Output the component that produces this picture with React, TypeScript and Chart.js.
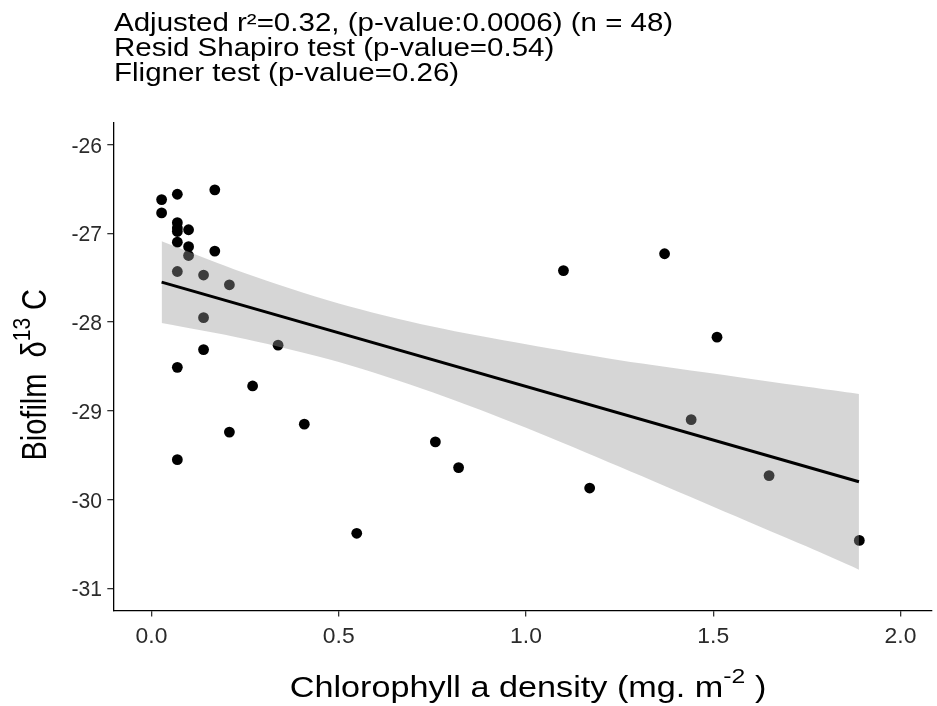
import React, { useEffect, useRef } from "react";
import { Chart, registerables } from "chart.js";

Chart.register(...registerables);

// ---- data ----
const chlX = [0.027, 0.027, 0.069, 0.169, 0.069, 0.069, 0.069, 0.099, 0.069, 0.099, 0.099, 0.169, 0.069, 0.139, 0.208, 0.139, 0.338, 0.139, 0.069, 0.27, 0.408, 0.208, 0.069, 0.548, 0.758, 0.82, 1.10, 1.17, 1.37, 1.441, 1.51, 1.649, 1.89];
const d13C = [-26.62, -26.77, -26.56, -26.51, -26.88, -26.94, -26.98, -26.96, -27.10, -27.15, -27.25, -27.20, -27.43, -27.47, -27.58, -27.95, -28.26, -28.31, -28.51, -28.72, -29.15, -29.24, -29.55, -30.38, -29.35, -29.64, -27.42, -29.87, -27.23, -29.10, -28.17, -29.73, -30.46];

const fitX = [0.027, 1.889];
const fitY = [-27.55, -29.8];

const bandX = [0.027, 0.25, 0.5, 0.75, 1.0, 1.25, 1.5, 1.75, 1.889];
const bandUpper = [-27.09, -27.45, -27.79, -28.05, -28.25, -28.43, -28.58, -28.73, -28.81];
const bandLower = [-28.01, -28.19, -28.45, -28.79, -29.19, -29.63, -30.08, -30.53, -30.79];

const xTicks = [0, 0.5, 1, 1.5, 2];
const yTicks = [-31, -30, -29, -28, -27, -26];
const xTickLabels = ["0.0", "0.5", "1.0", "1.5", "2.0"];
const yTickLabels = ["-31", "-30", "-29", "-28", "-27", "-26"];

const titleLines = [
  "Adjusted r\u00B2=0.32, (p-value:0.0006) (n = 48)",
  "Resid Shapiro test (p-value=0.54)",
  "Fligner test (p-value=0.26)",
];

const FONT = "'Liberation Sans', Arial, sans-serif";
const STRETCH = 1.18;

type Part = { text: string; sup?: boolean };

function stretchedText(ctx: CanvasRenderingContext2D, text: string, x: number, y: number, align: CanvasTextAlign, sx: number) {
  ctx.save();
  ctx.translate(x, y);
  ctx.scale(sx, 1);
  ctx.textAlign = align;
  ctx.textBaseline = "alphabetic";
  ctx.fillText(text, 0, 0);
  ctx.restore();
}

function drawRich(ctx: CanvasRenderingContext2D, parts: Part[], size: number, cx: number, cy: number, rotate: boolean) {
  ctx.save();
  ctx.translate(cx, cy);
  if (rotate) {
    ctx.rotate(-Math.PI / 2);
    ctx.scale(1, STRETCH);
  } else {
    ctx.scale(STRETCH, 1);
  }
  const supSize = Math.round(size * 0.72);
  let total = 0;
  const widths = parts.map((p) => {
    ctx.font = `${p.sup ? supSize : size}px ${FONT}`;
    const w = ctx.measureText(p.text).width;
    total += w;
    return w;
  });
  let x = -total / 2;
  ctx.fillStyle = "#000";
  ctx.textBaseline = "alphabetic";
  ctx.textAlign = "left";
  parts.forEach((p, i) => {
    ctx.font = `${p.sup ? supSize : size}px ${FONT}`;
    const y = p.sup ? -size * 0.48 : 0;
    ctx.fillText(p.text, x, y);
    x += widths[i];
  });
  ctx.restore();
}

const textPlugin = {
  id: "customText",
  afterDraw(chart: any) {
    const ctx = chart.ctx as CanvasRenderingContext2D;
    const area = chart.chartArea;
    const xs = chart.scales.x;
    const ys = chart.scales.y;
    ctx.save();
    ctx.fillStyle = "#000";
    ctx.font = `25px ${FONT}`;
    titleLines.forEach((t, i) => stretchedText(ctx, t, 114, 31 + i * 25, "left", STRETCH));

    ctx.fillStyle = "#2b2b2b";
    ctx.font = `22px ${FONT}`;
    xTicks.forEach((v, i) => stretchedText(ctx, xTickLabels[i], xs.getPixelForValue(v), 642.5, "center", 1.04));
    yTicks.forEach((v, i) => stretchedText(ctx, yTickLabels[i], 102, ys.getPixelForValue(v) + 8, "right", 0.96));
    ctx.restore();

    drawRich(ctx, [{ text: "Chlorophyll a density (mg. m" }, { text: "-2", sup: true }, { text: " )" }], 29, 528, 697, false);
    drawRich(ctx, [{ text: "Biofilm  \u03B4" }, { text: "13", sup: true }, { text: " C" }], 29, 46, (area.top + area.bottom) / 2 + 8, true);
  },
};

export default function App() {
  const ref = useRef<HTMLCanvasElement>(null);
  useEffect(() => {
    if (!ref.current) return;
    const points = chlX.map((x, i) => ({ x, y: d13C[i] }));
    const chart = new Chart(ref.current, {
      type: "scatter",
      data: {
        datasets: [
          {
            label: "obs",
            data: points,
            pointRadius: 5.4,
            pointBackgroundColor: "#000",
            pointBorderWidth: 0,
            order: 3,
          } as any,
          {
            label: "upper",
            data: bandX.map((x, i) => ({ x, y: bandUpper[i] })),
            showLine: true,
            borderWidth: 0,
            borderColor: "rgba(0,0,0,0)",
            pointRadius: 0,
            fill: "+1",
            backgroundColor: "rgba(153,153,153,0.4)",
            tension: 0.3,
            order: 2,
          },
          {
            label: "lower",
            data: bandX.map((x, i) => ({ x, y: bandLower[i] })),
            showLine: true,
            borderWidth: 0,
            borderColor: "rgba(0,0,0,0)",
            pointRadius: 0,
            fill: false,
            tension: 0.3,
            order: 2,
          },
          {
            label: "fit",
            data: fitX.map((x, i) => ({ x, y: fitY[i] })),
            showLine: true,
            borderWidth: 3,
            borderColor: "#000",
            pointRadius: 0,
            fill: false,
            order: 1,
          },
        ],
      },
      options: {
        responsive: false,
        animation: false,
        events: [],
        layout: { padding: { top: 123, left: 0, right: 0, bottom: 0 } },
        plugins: { legend: { display: false }, tooltip: { enabled: false }, title: { display: false } },
        scales: {
          x: {
            type: "linear",
            min: -0.102,
            max: 2.083,
            afterFit: (s: any) => { s.height = 95.5; },
            afterBuildTicks: (s: any) => { s.ticks = xTicks.map((v) => ({ value: v })); },
            ticks: {
              color: "rgba(0,0,0,0)",
              font: { size: 19, family: FONT },
              padding: 4,
              maxRotation: 0,
              callback: (v: any) => { const i = xTicks.indexOf(Number(v)); return i >= 0 ? xTickLabels[i] : ""; },
            },
            grid: { display: true, drawOnChartArea: false, drawTicks: true, tickLength: 6, color: "#333", lineWidth: 1.3 },
            border: { display: true, color: "#000", width: 1.3 },
          },
          y: {
            type: "linear",
            min: -31.25,
            max: -25.757,
            afterFit: (s: any) => { s.width = 113.3; },
            afterBuildTicks: (s: any) => { s.ticks = yTicks.map((v) => ({ value: v })); },
            ticks: {
              color: "rgba(0,0,0,0)",
              font: { size: 19, family: FONT },
              padding: 4,
              callback: (v: any) => { const i = yTicks.indexOf(Number(v)); return i >= 0 ? yTickLabels[i] : ""; },
            },
            grid: { display: true, drawOnChartArea: false, drawTicks: true, tickLength: 6, color: "#333", lineWidth: 1.3 },
            border: { display: true, color: "#000", width: 1.3 },
          },
        },
      },
      plugins: [textPlugin],
    });
    return () => chart.destroy();
  }, []);
  return (
    <div style={{ position: "absolute", left: 0, top: 0, width: 937, height: 706, background: "#fff" }}>
      <canvas ref={ref} width={937} height={706} style={{ display: "block" }} />
    </div>
  );
}
